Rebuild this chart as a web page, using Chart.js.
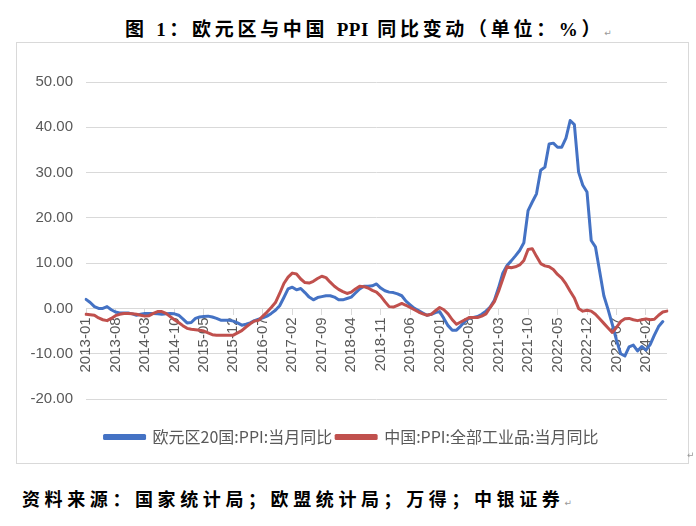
<!DOCTYPE html>
<html>
<head>
<meta charset="utf-8">
<script src="https://cdn.jsdelivr.net/npm/chart.js@4.4.1/dist/chart.umd.min.js"></script>
<style>
  html, body { margin:0; padding:0; background:#fff; }
  body { width:696px; height:526px; position:relative; overflow:hidden; }
  .title { position:absolute; left:125px; top:14px; white-space:nowrap;
           font-family:"Liberation Serif","Noto Sans CJK SC",serif; font-weight:700; font-size:19px; color:#000; letter-spacing:3.7px; }
  .title .lat { letter-spacing:0.5px; }
  .ret { font-family:"DejaVu Sans",sans-serif; font-weight:400; font-size:9px; color:#999; letter-spacing:0; }
  #box { position:absolute; left:16px; top:42px; width:671px; height:420px; border:1px solid #d9d9d9; }
  .src { position:absolute; left:22px; top:485px; font-family:"Liberation Serif","Noto Sans CJK SC",serif;
         font-weight:700; font-size:18px; letter-spacing:4.6px; color:#000; }
  .ret2 { position:absolute; left:687px; top:450px; }
</style>
</head>
<body>
<div class="title">图 1：欧元区与中国 <span class="lat">PPI</span> 同比变动（单位：%）<span class="ret">↵</span></div>
<div id="box"><canvas id="ppiChart"></canvas></div>
<span class="ret ret2">↵</span>
<div class="src">资料来源：国家统计局；欧盟统计局；万得；中银证券<span class="ret">↵</span></div>
<script>
// ---- data (monthly, 2013-01 .. 2024-07) ----
const startYear = 2013;
const months = [];
for (let i = 0; i < 139; i++) {
  const y = startYear + Math.floor(i / 12), m = (i % 12) + 1;
  months.push(y + '-' + (m < 10 ? '0' + m : m));
}

const euroPPI = [
  2.0, 1.3, 0.4, 0.0, 0.0, 0.4, -0.3, -0.8, -1.0, -1.0, -1.0, -1.2,
  -1.5, -1.3, -1.1, -1.1, -1.1, -1.2, -1.3, -1.2, -1.1, -1.2, -1.5, -2.3,
  -3.2, -3.1, -2.2, -1.9, -1.8, -1.7, -1.9, -2.2, -2.6, -2.6, -2.6, -2.8,
  -3.2, -3.7, -3.5, -3.2, -2.7, -2.4, -2.1, -1.7, -1.1, -0.4, 0.6, 2.4,
  4.3, 4.7, 4.1, 4.4, 3.5, 2.5, 1.9, 2.4, 2.6, 2.8, 2.8, 2.5,
  1.9, 1.9, 2.2, 2.5, 3.4, 4.3, 4.9, 4.9, 5.0, 5.4, 4.5, 3.9,
  3.6, 3.5, 3.2, 2.8, 1.6, 0.8, 0.0, -0.5, -1.0, -1.5, -1.3, -0.9,
  -0.7, -2.2, -3.8, -4.8, -4.8, -3.9, -2.9, -2.1, -2.0, -1.8, -1.3, -0.6,
  0.3, 1.8, 4.6, 7.8, 9.5, 10.5, 11.6, 12.8, 14.5, 21.6, 23.5, 25.3,
  30.5, 31.2, 36.3, 36.5, 35.6, 35.6, 37.6, 41.5, 40.6, 30.1, 27.2, 25.7,
  15.0, 13.6, 8.2, 2.8, -0.2, -3.5, -7.0, -10.0, -10.5, -8.5, -8.1, -9.4,
  -8.4, -9.2, -8.0, -5.9, -4.0, -2.9, null
];

const chinaPPI = [
  -1.3, -1.4, -1.5, -2.1, -2.5, -2.7, -2.2, -1.6, -1.3, -1.1, -1.1, -1.2,
  -1.3, -1.5, -1.7, -1.6, -1.1, -0.7, -0.7, -1.1, -1.8, -2.5, -3.1, -3.8,
  -4.4, -4.6, -4.7, -4.8, -5.0, -5.4, -5.8, -5.9, -5.9, -5.9, -5.9, -5.9,
  -5.4, -4.9, -4.1, -3.4, -2.8, -2.6, -1.7, -0.8, 0.2, 1.3, 3.3, 5.5,
  6.9, 7.8, 7.6, 6.5, 5.7, 5.6, 6.0, 6.6, 7.1, 6.8, 5.8, 4.9,
  4.2, 3.7, 3.3, 3.6, 4.3, 4.9, 4.8, 4.5, 4.0, 3.6, 2.7, 1.5,
  0.4, 0.3, 0.7, 1.1, 0.7, 0.2, -0.3, -0.8, -1.2, -1.5, -1.3, -0.5,
  0.2, -0.3, -1.2, -2.5, -3.5, -3.0, -2.5, -2.0, -2.0, -2.0, -1.7, -1.2,
  0.2, 1.5, 3.8, 6.5, 9.2, 9.0, 9.2, 9.6, 10.6, 13.0, 13.2, 11.5,
  9.9, 9.4, 9.2, 8.6, 7.5, 6.7, 5.4, 3.8, 2.3, 0.0, -0.6, -0.4,
  -0.6, -1.3, -2.3, -3.3, -4.3, -5.3, -4.2, -2.9, -2.3, -2.2, -2.5, -2.7,
  -2.5, -2.3, -2.5, -2.4, -1.5, -0.8, -0.6
];

const seriesNames = ['欧元区20国:PPI:当月同比', '中国:PPI:全部工业品:当月同比'];
const yTicks = [-20, -10, 0, 10, 20, 30, 40, 50];
const labelEvery = 7;

const tickFont = { family: '"Liberation Sans", Arial, sans-serif', size: 15 };

// nudge the legend row a few px right so it is centred on the box like the original
const legendShift = {
  id: 'legendShift',
  afterLayout(chart) {
    if (chart.legend) { chart.legend.left += 6; chart.legend.right += 6; }
  }
};

new Chart(document.getElementById('ppiChart'), {
  type: 'line',
  data: {
    labels: months,
    datasets: [
      { label: seriesNames[0], data: euroPPI, borderColor: '#4472C4', backgroundColor: '#4472C4', order: 1 },
      { label: seriesNames[1], data: chinaPPI, borderColor: '#C0504D', backgroundColor: '#C0504D', order: 0 }
    ]
  },
  plugins: [legendShift],
  options: {
    responsive: true,
    maintainAspectRatio: false,
    animation: false,
    events: [],
    elements: {
      point: { radius: 0 },
      line: { borderWidth: 3, tension: 0, borderCapStyle: 'round', borderJoinStyle: 'round' }
    },
    layout: { padding: { left: 7, right: 21, top: 39, bottom: 8 } },
    plugins: {
      legend: {
        position: 'bottom',
        // empty title only used as a spacer between the plot and the legend row
        title: { display: true, text: ' ', font: { size: 10 }, padding: { top: 14, bottom: 0 } },
        labels: {
          boxWidth: 40, boxHeight: 3, padding: 4,
          color: '#595959',
          font: { family: '"Noto Sans CJK SC", sans-serif', size: 16 },
          sort: (a, b) => a.datasetIndex - b.datasetIndex
        }
      },
      tooltip: { enabled: false }
    },
    scales: {
      x: {
        type: 'category',
        position: { y: 0 },
        offset: false,
        grid: {
          drawOnChartArea: false, drawTicks: true, tickLength: 6,
          color: ctx => (ctx.index % labelEvery === 0 ? '#d9d9d9' : 'rgba(0,0,0,0)')
        },
        border: { display: true, color: '#d9d9d9', width: 1 },
        ticks: {
          autoSkip: false, maxRotation: 90, minRotation: 90, padding: 3,
          color: '#595959', font: tickFont,
          callback: (v, i) => (i % labelEvery === 0 ? months[i] : '')
        }
      },
      y: {
        min: yTicks[0], max: yTicks[yTicks.length - 1],
        afterFit: s => { s.width = 62; },
        afterBuildTicks: s => { s.ticks = yTicks.map(v => ({ value: v })); },
        grid: { color: '#d9d9d9', lineWidth: 1, drawTicks: false },
        border: { display: false },
        ticks: { padding: 13, color: '#595959', font: tickFont, callback: v => Number(v).toFixed(2) }
      }
    }
  }
});
</script>
</body>
</html>
